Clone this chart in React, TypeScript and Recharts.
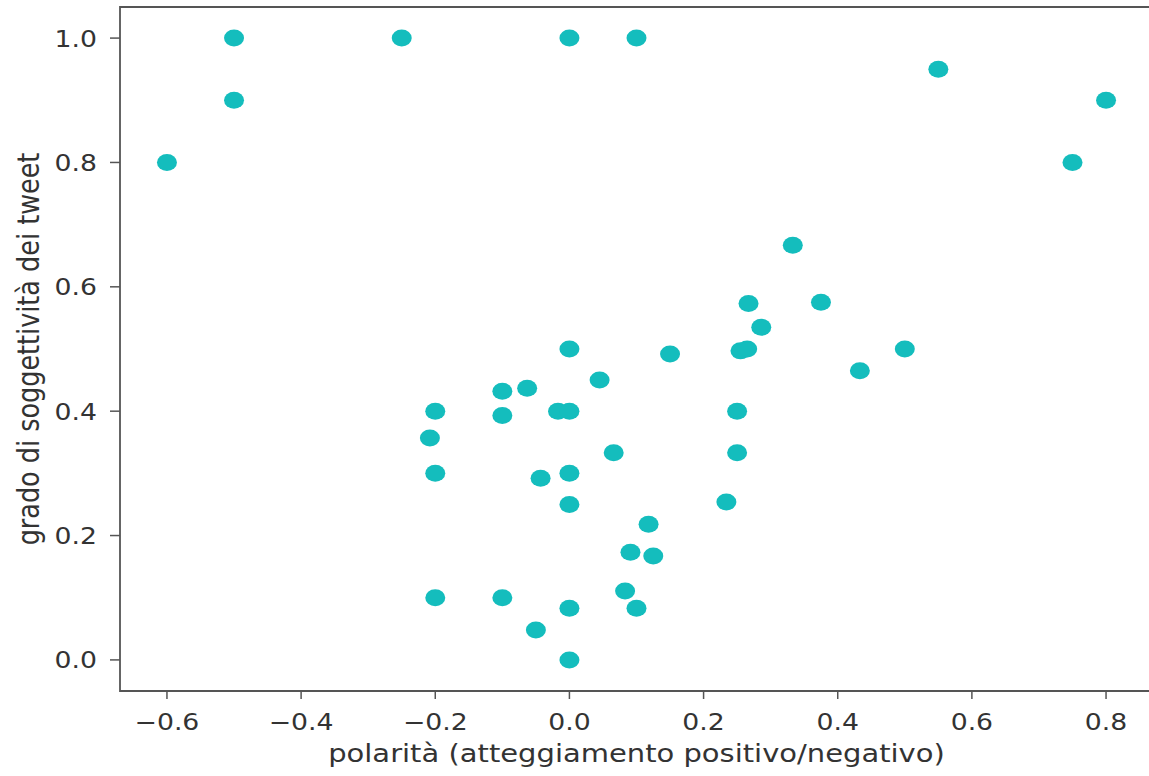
import React from 'react';
import { ScatterChart, Scatter, XAxis, YAxis, ReferenceArea } from 'recharts';

const polarity = [
  -0.6, -0.5, -0.5, -0.25, 0, 0.1, 0.55, 0.8, 0.75,
  0.333, 0.375, 0.267, 0.286, 0.255, 0.265, 0.5, 0.433, 0.15, 0,
  0.045, -0.063, -0.1, -0.1, -0.2, -0.017, 0, -0.208, -0.2, -0.043,
  0, 0.066, 0.25, 0.25, 0.234, 0, 0.118, 0.091, 0.125, -0.2,
  -0.1, 0, -0.05, 0.083, 0.1, 0,
];
const subjectivity = [
  0.8, 1.0, 0.9, 1.0, 1.0, 1.0, 0.95, 0.9, 0.8,
  0.667, 0.575, 0.573, 0.535, 0.497, 0.5, 0.5, 0.465, 0.492, 0.5,
  0.45, 0.437, 0.432, 0.393, 0.4, 0.4, 0.4, 0.357, 0.3, 0.292,
  0.3, 0.333, 0.4, 0.333, 0.254, 0.25, 0.218, 0.173, 0.167, 0.1,
  0.1, 0.083, 0.048, 0.111, 0.083, 0,
];
const xTicks = [-0.6, -0.4, -0.2, 0.0, 0.2, 0.4, 0.6, 0.8];
const yTicks = [0.0, 0.2, 0.4, 0.6, 0.8, 1.0];
const xLabel = 'polarità (atteggiamento positivo/negativo)';
const yLabel = 'grado di soggettività dei tweet';

const data = polarity.map((p, i) => ({ x: p, y: subjectivity[i] }));

const X_DOMAIN: [number, number] = [-0.67, 0.87];
const Y_DOMAIN: [number, number] = [-0.05, 1.05];
const FONT = 'DejaVu Sans';
const SX = 1.16;
const TEXT = '#333';
const AXIS = '#555';
const DOT = '#14bdbd';

const fmt = (v: number) => v.toFixed(1).replace('-', '\u2212');

const XTick = (props: any) => {
  const { x, y, payload } = props;
  return (
    <g transform={`translate(${x},${y})`}>
      <text transform={`scale(${SX},1)`} textAnchor="middle" y={29} fontFamily={FONT} fontSize={23} fill={TEXT}>
        {fmt(payload.value)}
      </text>
    </g>
  );
};

const YTick = (props: any) => {
  const { x, y, payload } = props;
  return (
    <g transform={`translate(${x},${y})`}>
      <text transform={`scale(${SX},1)`} textAnchor="end" y={8.5} fontFamily={FONT} fontSize={23} fill={TEXT}>
        {fmt(payload.value)}
      </text>
    </g>
  );
};

const Dot = (props: any) => {
  const { cx, cy } = props;
  return <ellipse cx={cx} cy={cy} rx={10} ry={8.5} fill={DOT} />;
};

export default function App() {
  return (
    <div style={{ position: 'absolute', left: 0, top: 0, width: 1149, height: 776, overflow: 'hidden', background: '#fff' }}>
      <ScatterChart width={1160} height={776} margin={{ top: 7, right: 7, bottom: 0, left: 0 }}>
        <XAxis
          type="number"
          dataKey="x"
          domain={X_DOMAIN}
          ticks={xTicks}
          allowDataOverflow
          axisLine={false}
          tickLine={{ stroke: AXIS, strokeWidth: 1.5 }}
          tickSize={8}
          tickMargin={2}
          tick={<XTick />}
          height={85}
          interval={0}
          label={{
            content: (p: any) => {
              const vb = p.viewBox;
              const cx = vb.x + vb.width / 2;
              return (
                <g transform={`translate(${cx},${762})`}>
                  <text transform={`scale(${SX},1)`} textAnchor="middle" fontFamily={FONT} fontSize={25} fill={TEXT}>
                    {xLabel}
                  </text>
                </g>
              );
            },
          }}
        />
        <YAxis
          type="number"
          dataKey="y"
          domain={Y_DOMAIN}
          ticks={yTicks}
          allowDataOverflow
          axisLine={false}
          tickLine={{ stroke: AXIS, strokeWidth: 1.5 }}
          tickSize={10}
          tickMargin={13}
          tick={<YTick />}
          width={120}
          interval={0}
          label={{
            content: (p: any) => {
              const vb = p.viewBox;
              const cy = vb.y + vb.height / 2;
              return (
                <g transform={`translate(${39},${cy}) scale(${SX},1) rotate(-90)`}>
                  <text textAnchor="middle" fontFamily={FONT} fontSize={25.5} fill={TEXT}>
                    {yLabel}
                  </text>
                </g>
              );
            },
          }}
        />
        <ReferenceArea
          x1={X_DOMAIN[0]}
          x2={X_DOMAIN[1]}
          y1={Y_DOMAIN[0]}
          y2={Y_DOMAIN[1]}
          fill="none"
          fillOpacity={0}
          stroke={AXIS}
          strokeWidth={1.8}
          ifOverflow="visible"
        />
        <Scatter data={data} shape={<Dot />} isAnimationActive={false} />
      </ScatterChart>
    </div>
  );
}
